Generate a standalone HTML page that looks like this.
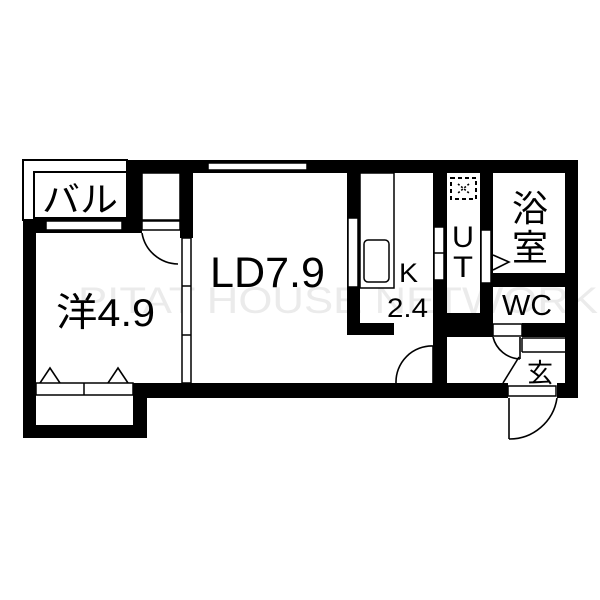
<!DOCTYPE html>
<html><head><style>
html,body{margin:0;padding:0;background:#fff;}
svg{display:block;}
text{font-family:"Liberation Sans","Noto Sans CJK JP",sans-serif;}
</style></head><body>
<svg width="600" height="600" viewBox="0 0 600 600" xmlns="http://www.w3.org/2000/svg">
<rect width="600" height="600" fill="#fff"/>
<text x="78" y="313" font-size="37" fill="#ebebeb" font-family="Liberation Sans, sans-serif" textLength="520" lengthAdjust="spacingAndGlyphs">PITAT HOUSE NETWORK</text>

<g fill="#000">
<rect x="127" y="160" width="451" height="13"/>
<rect x="565" y="160" width="13" height="238"/>
<rect x="133" y="383" width="375" height="15"/>
<rect x="557" y="383" width="21" height="15"/>
<rect x="23" y="220" width="13" height="218"/>
<rect x="23" y="425" width="124" height="13"/>
<rect x="133" y="383" width="14" height="55"/>
<rect x="23" y="218" width="119" height="15"/>
<rect x="127" y="160" width="15" height="73"/>
<rect x="180" y="160" width="13" height="78"/>
<rect x="347" y="173" width="13" height="162"/>
<rect x="347" y="323" width="47" height="12"/>
<rect x="433" y="173" width="14" height="210"/>
<rect x="480" y="173" width="13" height="164"/>
<rect x="447" y="313" width="46" height="24"/>
<rect x="493" y="273" width="72" height="14"/>
<rect x="433" y="323" width="60" height="14"/>
<rect x="522" y="323" width="43" height="14"/>
</g>

<g fill="#fff" stroke="#000" stroke-width="1.5">
<rect x="208" y="163" width="99" height="7"/>
<rect x="46" y="221" width="76" height="9"/>
<rect x="142" y="221" width="38" height="9"/>
<rect x="182" y="238" width="9" height="145"/>
<line x1="182" y1="286" x2="191" y2="286"/>
<line x1="182" y1="335" x2="191" y2="335"/>
<rect x="348" y="218" width="10" height="69"/>
<rect x="434" y="227" width="10" height="53"/>
<line x1="434" y1="253" x2="444" y2="253"/>
<rect x="481" y="230" width="10" height="53"/>
<rect x="23" y="160" width="104" height="60" stroke-width="2"/>
<rect x="34" y="172" width="93" height="46" stroke-width="2"/>
<rect x="142" y="173" width="38" height="47"/>
<rect x="360" y="173" width="34" height="115"/>
<rect x="364" y="240" width="25" height="42" rx="4"/>
<rect x="36" y="383" width="97" height="12"/>
<line x1="84" y1="383" x2="84" y2="395"/>
<rect x="493" y="324" width="29" height="12"/>
<line x1="522" y1="338" x2="565" y2="338"/>
<line x1="522" y1="352" x2="565" y2="352"/>
<line x1="522" y1="338" x2="522" y2="352"/>
<rect x="508" y="386" width="48" height="10"/>
<line x1="446" y1="337" x2="446" y2="383"/>
</g>

<g fill="none" stroke="#000" stroke-width="1.6">
<path d="M142 233 A37 37 0 0 0 178 264"/>
<path d="M396 383 A36 36 0 0 1 433 346"/>
<line x1="433" y1="346" x2="433" y2="383"/>
<path d="M493 337 A29 29 0 0 0 520 359"/>
<line x1="520" y1="337" x2="520" y2="359"/>
<line x1="503" y1="383" x2="519" y2="357"/>
<path d="M557 398 A48 48 0 0 1 509 439"/>
<line x1="509" y1="398" x2="509" y2="439"/>
<path d="M40 383 L50 368 L60 383"/>
<path d="M108 383 L118 368 L128 383"/>
<path d="M493 255 L509 262 L493 270"/>
<rect x="451" y="178" width="25" height="21" stroke-dasharray="4,3" stroke-width="2"/>
<path d="M458 184 L469 193 M469 184 L458 193" stroke-dasharray="2,2"/>
</g>

<g fill="#000">
<text x="42" y="212" font-size="35" textLength="76" lengthAdjust="spacingAndGlyphs">バル</text>
<text x="56" y="326" font-size="39" textLength="99" lengthAdjust="spacingAndGlyphs">洋4.9</text>
<text x="210" y="287" font-size="43" textLength="115" lengthAdjust="spacingAndGlyphs">LD7.9</text>
<text x="399" y="282" font-size="27" textLength="19" lengthAdjust="spacingAndGlyphs">K</text>
<text x="387" y="317" font-size="27" textLength="41" lengthAdjust="spacingAndGlyphs">2.4</text>
<text x="452" y="247" font-size="30" textLength="22" lengthAdjust="spacingAndGlyphs">U</text>
<text x="453" y="277" font-size="30" textLength="20" lengthAdjust="spacingAndGlyphs">T</text>
<text x="512" y="221" font-size="36">浴</text>
<text x="512" y="260" font-size="36">室</text>
<text x="502" y="315" font-size="29" textLength="50" lengthAdjust="spacingAndGlyphs">WC</text>
<text x="527" y="382" font-size="26">玄</text>
</g>
</svg>
</body></html>
